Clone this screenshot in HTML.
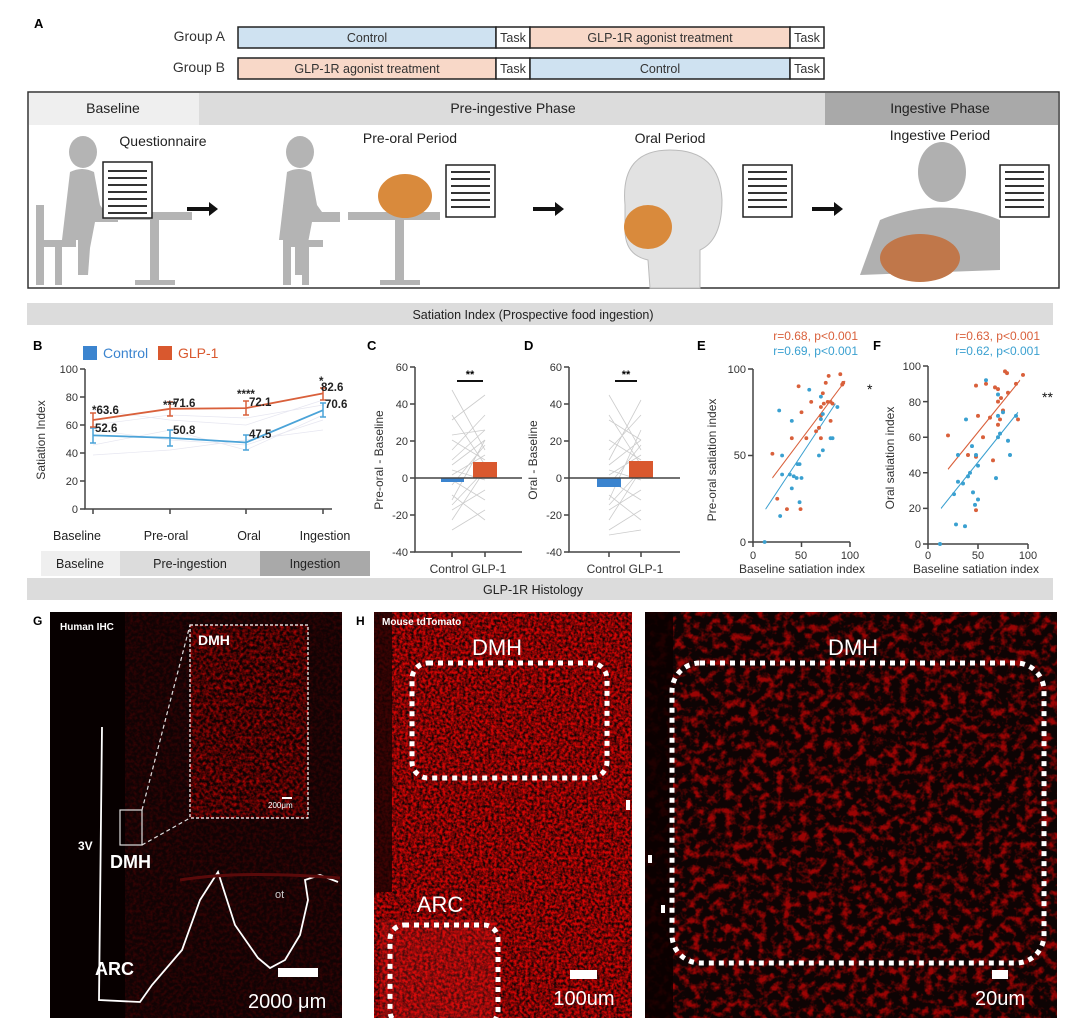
<!DOCTYPE html>
<html><head><meta charset="utf-8"><style>
html,body{margin:0;padding:0;background:#fff;}
svg{display:block;font-family:"Liberation Sans",Arial,sans-serif;}
</style></head><body>
<svg width="1080" height="1028" viewBox="0 0 1080 1028" xmlns="http://www.w3.org/2000/svg">
<defs>
<filter id="nz1" x="0" y="0" width="100%" height="100%" color-interpolation-filters="sRGB"><feTurbulence type="fractalNoise" baseFrequency="0.35" numOctaves="2" seed="3"/><feColorMatrix type="matrix" values="2.2 0 0 0 -0.55  0 0 0 0 0.02  0 0 0 0 0.02  0 0 0 0 1"/></filter>
<filter id="nz2" x="0" y="0" width="100%" height="100%" color-interpolation-filters="sRGB"><feTurbulence type="fractalNoise" baseFrequency="0.3" numOctaves="2" seed="7"/><feColorMatrix type="matrix" values="2.2 0 0 0 -0.75  0 0 0 0 0.01  0 0 0 0 0.01  0 0 0 0 1"/></filter>
<filter id="nz3" x="0" y="0" width="100%" height="100%" color-interpolation-filters="sRGB"><feTurbulence type="fractalNoise" baseFrequency="0.12" numOctaves="3" seed="11"/><feColorMatrix type="matrix" values="3.5 0 0 0 -1.6  0 0 0 0 0.02  0 0 0 0 0.02  0 0 0 0 1"/></filter>
<filter id="nz4" x="0" y="0" width="100%" height="100%" color-interpolation-filters="sRGB"><feTurbulence type="fractalNoise" baseFrequency="0.3" numOctaves="2" seed="5"/><feColorMatrix type="matrix" values="0.8 0 0 0 -0.3  0 0 0 0 0.01  0 0 0 0 0.01  0 0 0 0 1"/></filter>
</defs>

<!-- A -->
<text x="34" y="28" font-size="13" font-weight="bold">A</text>
<text x="225" y="41" font-size="14" text-anchor="end" fill="#333">Group A</text>
<text x="225" y="72" font-size="14" text-anchor="end" fill="#333">Group B</text>
<g stroke="#222" stroke-width="1.5" font-size="12.5" fill="#333">
<rect x="238" y="27" width="258" height="21" fill="#cfe2f1"/>
<rect x="496" y="27" width="34" height="21" fill="#fff"/>
<rect x="530" y="27" width="260" height="21" fill="#f8d8c8"/>
<rect x="790" y="27" width="34" height="21" fill="#fff"/>
<rect x="238" y="58" width="258" height="21" fill="#f8d8c8"/>
<rect x="496" y="58" width="34" height="21" fill="#fff"/>
<rect x="530" y="58" width="260" height="21" fill="#cfe2f1"/>
<rect x="790" y="58" width="34" height="21" fill="#fff"/>
</g>
<g font-size="12.5" fill="#333" text-anchor="middle">
<text x="367" y="42">Control</text><text x="513" y="42">Task</text><text x="660" y="42">GLP-1R agonist treatment</text><text x="807" y="42">Task</text>
<text x="367" y="73">GLP-1R agonist treatment</text><text x="513" y="73">Task</text><text x="660" y="73">Control</text><text x="807" y="73">Task</text>
</g>
<rect x="28" y="92" width="1031" height="196" fill="#fff" stroke="#333" stroke-width="1.5"/>
<rect x="29" y="93" width="170" height="32" fill="#efefef"/>
<rect x="199" y="93" width="626" height="32" fill="#dcdcdc"/>
<rect x="825" y="93" width="233" height="32" fill="#a9a9a9"/>
<g font-size="14" fill="#222" text-anchor="middle">
<text x="113" y="113">Baseline</text><text x="513" y="113">Pre-ingestive Phase</text><text x="940" y="113">Ingestive Phase</text>
<text x="163" y="146">Questionnaire</text><text x="410" y="143">Pre-oral Period</text><text x="670" y="143">Oral Period</text><text x="940" y="140">Ingestive Period</text>
</g>
<g fill="#b4b4b4">
<ellipse cx="83" cy="152" rx="14" ry="16"/>
<path d="M70 172 Q82 166 94 172 L100 205 L105 212 L118 212 L118 222 L95 222 L90 248 L88 275 L78 275 L78 240 L62 240 Z"/>
<rect x="36" y="205" width="8" height="80"/><rect x="36" y="240" width="40" height="7"/><rect x="55" y="247" width="7" height="38"/>
<rect x="100" y="212" width="92" height="8"/><rect x="150" y="220" width="9" height="62"/><rect x="135" y="280" width="40" height="5"/>
<path d="M287 172 Q299 166 311 172 L317 205 L322 212 L340 212 L340 222 L312 222 L307 248 L305 275 L295 275 L295 240 L279 240 Z"/>
<ellipse cx="300" cy="152" rx="14" ry="16"/>
<rect x="283" y="205" width="8" height="80"/><rect x="283" y="240" width="40" height="7"/><rect x="302" y="247" width="7" height="38"/>
<rect x="348" y="212" width="92" height="8"/><rect x="395" y="220" width="9" height="62"/><rect x="380" y="280" width="40" height="5"/>
</g>
<g fill="#fff" stroke="#222" stroke-width="1.5"><rect x="103" y="162" width="49" height="56"/><rect x="446" y="165" width="49" height="52"/><rect x="743" y="165" width="49" height="52"/><rect x="1000" y="165" width="49" height="52"/></g>
<g stroke="#333" stroke-width="2">
<path d="M108 171h39M108 178h39M108 185h39M108 192h39M108 199h39M108 206h39M108 213h39"/>
<path d="M451 172h39M451 179h39M451 186h39M451 193h39M451 200h39M451 207h39"/>
<path d="M748 172h39M748 179h39M748 186h39M748 193h39M748 200h39M748 207h39"/>
<path d="M1005 172h39M1005 179h39M1005 186h39M1005 193h39M1005 200h39M1005 207h39"/>
</g>
<g fill="#111"><path d="M187 207h22v-5l9 7-9 7v-5h-22z"/><path d="M533 207h22v-5l9 7-9 7v-5h-22z"/><path d="M812 207h22v-5l9 7-9 7v-5h-22z"/></g>
<ellipse cx="405" cy="196" rx="27" ry="22" fill="#d98a3c"/>
<path d="M625 205 Q620 150 670 150 Q720 150 722 200 Q722 240 700 250 L700 288 L650 288 L648 260 Q625 255 625 230 Z" fill="#e2e2e2" stroke="#bbb"/>
<ellipse cx="648" cy="227" rx="24" ry="22" fill="#d98a3c"/>
<g fill="#b0b0b0"><ellipse cx="942" cy="172" rx="24" ry="30"/><path d="M880 220 Q940 195 1000 220 L1000 270 L860 275 Z"/></g>
<ellipse cx="920" cy="258" rx="40" ry="24" fill="#c0774a"/>

<rect x="27" y="303" width="1026" height="22" fill="#dcdcdc"/>
<text x="533" y="319" font-size="12.5" text-anchor="middle" fill="#222">Satiation Index (Prospective food ingestion)</text>

<!-- B -->
<text x="33" y="350" font-size="13" font-weight="bold">B</text>
<rect x="83" y="346" width="14" height="14" fill="#3b84cf"/><text x="103" y="358" font-size="14" fill="#3b84cf">Control</text>
<rect x="158" y="346" width="14" height="14" fill="#d9582e"/><text x="178" y="358" font-size="14" fill="#d9582e">GLP-1</text>
<g stroke="#444" stroke-width="1.5" fill="none"><path d="M85 369V509H332"/><path d="M80 369h5M80 397h5M80 425h5M80 453h5M80 481h5M80 509h5M93 509v5M170 509v5M246 509v5M323 509v5"/></g>
<g font-size="11" fill="#333" text-anchor="end"><text x="78" y="373">100</text><text x="78" y="401">80</text><text x="78" y="429">60</text><text x="78" y="457">40</text><text x="78" y="485">20</text><text x="78" y="513">0</text></g>
<text transform="translate(45,440) rotate(-90)" font-size="12" text-anchor="middle" fill="#333">Satiation Index</text>
<g stroke="#e4e4ef" stroke-width="0.7" fill="none" opacity="0.9"><path d="M93 430L170 440L246 445L323 420"/><path d="M93 445L170 430L246 450L323 415"/><path d="M93 410L170 420L246 425L323 400"/><path d="M93 455L170 450L246 440L323 430"/><path d="M93 425L170 415L246 418L323 405"/></g>
<polyline points="93,435.4 170,437.9 246,442.5 323,410.2" fill="none" stroke="#4aa3d8" stroke-width="1.8"/>
<polyline points="93,420 170,408.8 246,408.1 323,393.4" fill="none" stroke="#d9603b" stroke-width="1.8"/>
<g stroke="#4aa3d8" stroke-width="1.5"><path d="M93 428v15M90 428h6M90 443h6M170 430v16M167 430h6M167 446h6M246 435v15M243 435h6M243 450h6M323 403v14M320 403h6M320 417h6"/></g>
<g stroke="#d9603b" stroke-width="1.5"><path d="M93 413v14M90 413h6M90 427h6M170 402v14M167 402h6M167 416h6M246 401v14M243 401h6M243 415h6M323 388v12M320 388h6M320 400h6"/></g>
<g font-size="11.5" font-weight="bold" fill="#222"><text x="92" y="414">*63.6</text><text x="95" y="432">52.6</text><text x="163" y="409">***</text><text x="173" y="407">71.6</text><text x="173" y="434">50.8</text><text x="237" y="398">****</text><text x="249" y="406">72.1</text><text x="249" y="438">47.5</text><text x="321" y="391">82.6</text><text x="319" y="385">*</text><text x="325" y="408">70.6</text></g>
<g font-size="12.5" fill="#222" text-anchor="middle"><text x="77" y="540">Baseline</text><text x="166" y="540">Pre-oral</text><text x="249" y="540">Oral</text><text x="325" y="540">Ingestion</text></g>
<rect x="41" y="551" width="79" height="25" fill="#efefef"/><rect x="120" y="551" width="140" height="25" fill="#dcdcdc"/><rect x="260" y="551" width="110" height="25" fill="#a9a9a9"/>
<g font-size="12.5" fill="#222" text-anchor="middle"><text x="80" y="568">Baseline</text><text x="190" y="568">Pre-ingestion</text><text x="315" y="568">Ingestion</text></g>

<!-- C -->
<text x="367" y="350" font-size="13" font-weight="bold">C</text>
<g stroke="#ccc" stroke-width="0.8"><path d="M452 460L485 430M452 420L485 395M452 505L485 470M452 470L485 480M452 500L485 440M452 440L485 460M452 530L485 510M452 390L485 450M452 485L485 445M452 450L485 415M452 510L485 490M452 475L485 455M452 495L485 520M452 415L485 465M452 520L485 470M452 465L485 440M452 435L485 430M452 480L485 500"/></g>
<rect x="441" y="478" width="23" height="4" fill="#3b84cf"/><rect x="473" y="462" width="24" height="16" fill="#d9582e"/>
<g stroke="#444" stroke-width="1.5" fill="none"><path d="M415 367V552H522M415 478H522"/><path d="M410 367h5M410 404h5M410 441h5M410 478h5M410 515h5M410 552h5M452 552v5M485 552v5"/></g>
<path d="M457 381H483" stroke="#111" stroke-width="2"/><text x="470" y="378" font-size="11" text-anchor="middle" font-weight="bold">**</text>
<g font-size="11" fill="#333" text-anchor="end"><text x="408" y="371">60</text><text x="408" y="408">40</text><text x="408" y="445">20</text><text x="408" y="482">0</text><text x="408" y="519">-20</text><text x="408" y="556">-40</text></g>
<text transform="translate(383,460) rotate(-90)" font-size="12" text-anchor="middle" fill="#333">Pre-oral - Baseline</text>
<text x="468" y="573" font-size="12" text-anchor="middle" fill="#333">Control  GLP-1</text>

<!-- D -->
<text x="524" y="350" font-size="13" font-weight="bold">D</text>
<g stroke="#ccc" stroke-width="0.8"><path d="M609 460L641 400M609 420L641 440M609 505L641 470M609 470L641 480M609 500L641 430M609 440L641 460M609 530L641 510M609 395L641 450M609 485L641 445M609 450L641 415M609 510L641 490M609 475L641 455M609 495L641 520M609 415L641 465M609 520L641 470M609 465L641 440M609 535L641 530M609 480L641 500"/></g>
<rect x="597" y="478" width="24" height="9" fill="#3b84cf"/><rect x="629" y="461" width="24" height="17" fill="#d9582e"/>
<g stroke="#444" stroke-width="1.5" fill="none"><path d="M569 367V552H680M569 478H680"/><path d="M564 367h5M564 404h5M564 441h5M564 478h5M564 515h5M564 552h5M609 552v5M641 552v5"/></g>
<path d="M615 381H637" stroke="#111" stroke-width="2"/><text x="626" y="378" font-size="11" text-anchor="middle" font-weight="bold">**</text>
<g font-size="11" fill="#333" text-anchor="end"><text x="562" y="371">60</text><text x="562" y="408">40</text><text x="562" y="445">20</text><text x="562" y="482">0</text><text x="562" y="519">-20</text><text x="562" y="556">-40</text></g>
<text transform="translate(537,460) rotate(-90)" font-size="12" text-anchor="middle" fill="#333">Oral - Baseline</text>
<text x="625" y="573" font-size="12" text-anchor="middle" fill="#333">Control  GLP-1</text>

<!-- E -->
<text x="697" y="350" font-size="13" font-weight="bold">E</text>
<text x="858" y="340" font-size="12" text-anchor="end" fill="#d9603b">r=0.68, p&lt;0.001</text>
<text x="858" y="355" font-size="12" text-anchor="end" fill="#3aa0d0">r=0.69, p&lt;0.001</text>
<text x="867" y="394" font-size="14" fill="#111">*</text>
<g stroke="#444" stroke-width="1.5" fill="none"><path d="M753 369V542H850"/><path d="M748 369h5M748 455.5h5M748 542h5M753 542v5M801.5 542v5M850 542v5"/></g>
<g font-size="11" fill="#333"><text x="746" y="373" text-anchor="end">100</text><text x="746" y="459" text-anchor="end">50</text><text x="746" y="546" text-anchor="end">0</text><text x="753" y="559" text-anchor="middle">0</text><text x="801" y="559" text-anchor="middle">50</text><text x="850" y="559" text-anchor="middle">100</text></g>
<text x="802" y="573" font-size="12" text-anchor="middle" fill="#333">Baseline satiation index</text>
<text transform="translate(716,460) rotate(-90)" font-size="12" text-anchor="middle" fill="#333">Pre-oral satiation index</text>
<g transform="translate(753,542) scale(0.97,-1.73)">
<path d="M20 37L95 93" stroke="#d9603b" stroke-width="0.8" fill="none"/>
<path d="M13 19L85 80" stroke="#3aa0d0" stroke-width="0.8" fill="none"/>
<g fill="#d9603b"><ellipse cx="20" cy="51" rx="2" ry="1.1"/><ellipse cx="25" cy="25" rx="2" ry="1.1"/><ellipse cx="35" cy="19" rx="2" ry="1.1"/><ellipse cx="40" cy="60" rx="2" ry="1.1"/><ellipse cx="47" cy="90" rx="2" ry="1.1"/><ellipse cx="49" cy="19" rx="2" ry="1.1"/><ellipse cx="50" cy="75" rx="2" ry="1.1"/><ellipse cx="55" cy="60" rx="2" ry="1.1"/><ellipse cx="60" cy="81" rx="2" ry="1.1"/><ellipse cx="65" cy="64" rx="2" ry="1.1"/><ellipse cx="68" cy="66" rx="2" ry="1.1"/><ellipse cx="70" cy="78" rx="2" ry="1.1"/><ellipse cx="70" cy="60" rx="2" ry="1.1"/><ellipse cx="72" cy="86" rx="2" ry="1.1"/><ellipse cx="73" cy="80" rx="2" ry="1.1"/><ellipse cx="75" cy="92" rx="2" ry="1.1"/><ellipse cx="77" cy="81" rx="2" ry="1.1"/><ellipse cx="78" cy="96" rx="2" ry="1.1"/><ellipse cx="80" cy="81" rx="2" ry="1.1"/><ellipse cx="80" cy="70" rx="2" ry="1.1"/><ellipse cx="82" cy="80" rx="2" ry="1.1"/><ellipse cx="90" cy="97" rx="2" ry="1.1"/><ellipse cx="92" cy="91" rx="2" ry="1.1"/><ellipse cx="93" cy="92" rx="2" ry="1.1"/><ellipse cx="70" cy="73" rx="2" ry="1.1"/></g>
<g fill="#3aa0d0"><ellipse cx="12" cy="0" rx="2" ry="1.1"/><ellipse cx="27" cy="76" rx="2" ry="1.1"/><ellipse cx="28" cy="15" rx="2" ry="1.1"/><ellipse cx="30" cy="50" rx="2" ry="1.1"/><ellipse cx="30" cy="39" rx="2" ry="1.1"/><ellipse cx="38" cy="39" rx="2" ry="1.1"/><ellipse cx="40" cy="70" rx="2" ry="1.1"/><ellipse cx="40" cy="31" rx="2" ry="1.1"/><ellipse cx="42" cy="38" rx="2" ry="1.1"/><ellipse cx="45" cy="37" rx="2" ry="1.1"/><ellipse cx="46" cy="45" rx="2" ry="1.1"/><ellipse cx="48" cy="45" rx="2" ry="1.1"/><ellipse cx="48" cy="23" rx="2" ry="1.1"/><ellipse cx="50" cy="37" rx="2" ry="1.1"/><ellipse cx="58" cy="88" rx="2" ry="1.1"/><ellipse cx="68" cy="50" rx="2" ry="1.1"/><ellipse cx="70" cy="71" rx="2" ry="1.1"/><ellipse cx="70" cy="84" rx="2" ry="1.1"/><ellipse cx="72" cy="53" rx="2" ry="1.1"/><ellipse cx="72" cy="74" rx="2" ry="1.1"/><ellipse cx="80" cy="60" rx="2" ry="1.1"/><ellipse cx="82" cy="60" rx="2" ry="1.1"/><ellipse cx="87" cy="78" rx="2" ry="1.1"/></g>
</g>

<!-- F -->
<text x="873" y="350" font-size="13" font-weight="bold">F</text>
<text x="1040" y="340" font-size="12" text-anchor="end" fill="#d9603b">r=0.63, p&lt;0.001</text>
<text x="1040" y="355" font-size="12" text-anchor="end" fill="#3aa0d0">r=0.62, p&lt;0.001</text>
<text x="1042" y="402" font-size="14" fill="#111">**</text>
<g stroke="#444" stroke-width="1.5" fill="none"><path d="M928 366V544H1028"/><path d="M923 366h5M923 401.6h5M923 437.2h5M923 472.8h5M923 508.4h5M923 544h5M928 544v5M978 544v5M1028 544v5"/></g>
<g font-size="11" fill="#333"><text x="921" y="370" text-anchor="end">100</text><text x="921" y="406" text-anchor="end">80</text><text x="921" y="441" text-anchor="end">60</text><text x="921" y="477" text-anchor="end">40</text><text x="921" y="512" text-anchor="end">20</text><text x="921" y="548" text-anchor="end">0</text><text x="928" y="559" text-anchor="middle">0</text><text x="978" y="559" text-anchor="middle">50</text><text x="1028" y="559" text-anchor="middle">100</text></g>
<text x="976" y="573" font-size="12" text-anchor="middle" fill="#333">Baseline satiation index</text>
<text transform="translate(894,458) rotate(-90)" font-size="12" text-anchor="middle" fill="#333">Oral satiation index</text>
<g transform="translate(928,544) scale(1,-1.78)">
<path d="M20 42L92 92" stroke="#d9603b" stroke-width="0.8" fill="none"/>
<path d="M13 20L90 74" stroke="#3aa0d0" stroke-width="0.8" fill="none"/>
<g fill="#d9603b"><ellipse cx="20" cy="61" rx="2" ry="1.1"/><ellipse cx="48" cy="49" rx="2" ry="1.1"/><ellipse cx="48" cy="89" rx="2" ry="1.1"/><ellipse cx="48" cy="19" rx="2" ry="1.1"/><ellipse cx="50" cy="72" rx="2" ry="1.1"/><ellipse cx="55" cy="60" rx="2" ry="1.1"/><ellipse cx="58" cy="90" rx="2" ry="1.1"/><ellipse cx="62" cy="71" rx="2" ry="1.1"/><ellipse cx="65" cy="47" rx="2" ry="1.1"/><ellipse cx="67" cy="88" rx="2" ry="1.1"/><ellipse cx="70" cy="80" rx="2" ry="1.1"/><ellipse cx="70" cy="67" rx="2" ry="1.1"/><ellipse cx="72" cy="70" rx="2" ry="1.1"/><ellipse cx="73" cy="82" rx="2" ry="1.1"/><ellipse cx="75" cy="75" rx="2" ry="1.1"/><ellipse cx="77" cy="97" rx="2" ry="1.1"/><ellipse cx="79" cy="96" rx="2" ry="1.1"/><ellipse cx="80" cy="85" rx="2" ry="1.1"/><ellipse cx="88" cy="90" rx="2" ry="1.1"/><ellipse cx="90" cy="70" rx="2" ry="1.1"/><ellipse cx="95" cy="95" rx="2" ry="1.1"/><ellipse cx="70" cy="87" rx="2" ry="1.1"/><ellipse cx="40" cy="50" rx="2" ry="1.1"/></g>
<g fill="#3aa0d0"><ellipse cx="12" cy="0" rx="2" ry="1.1"/><ellipse cx="26" cy="28" rx="2" ry="1.1"/><ellipse cx="28" cy="11" rx="2" ry="1.1"/><ellipse cx="30" cy="35" rx="2" ry="1.1"/><ellipse cx="30" cy="50" rx="2" ry="1.1"/><ellipse cx="35" cy="34" rx="2" ry="1.1"/><ellipse cx="37" cy="10" rx="2" ry="1.1"/><ellipse cx="38" cy="70" rx="2" ry="1.1"/><ellipse cx="40" cy="38" rx="2" ry="1.1"/><ellipse cx="42" cy="40" rx="2" ry="1.1"/><ellipse cx="44" cy="55" rx="2" ry="1.1"/><ellipse cx="45" cy="29" rx="2" ry="1.1"/><ellipse cx="47" cy="22" rx="2" ry="1.1"/><ellipse cx="48" cy="50" rx="2" ry="1.1"/><ellipse cx="50" cy="25" rx="2" ry="1.1"/><ellipse cx="50" cy="44" rx="2" ry="1.1"/><ellipse cx="58" cy="92" rx="2" ry="1.1"/><ellipse cx="68" cy="37" rx="2" ry="1.1"/><ellipse cx="70" cy="60" rx="2" ry="1.1"/><ellipse cx="70" cy="84" rx="2" ry="1.1"/><ellipse cx="70" cy="72" rx="2" ry="1.1"/><ellipse cx="72" cy="62" rx="2" ry="1.1"/><ellipse cx="75" cy="74" rx="2" ry="1.1"/><ellipse cx="80" cy="58" rx="2" ry="1.1"/><ellipse cx="82" cy="50" rx="2" ry="1.1"/><ellipse cx="88" cy="72" rx="2" ry="1.1"/></g>
</g>

<rect x="27" y="578" width="1026" height="22" fill="#dcdcdc"/>
<text x="533" y="594" font-size="12.5" text-anchor="middle" fill="#222">GLP-1R Histology</text>

<!-- G -->
<text x="33" y="625" font-size="12" font-weight="bold">G</text>
<rect x="50" y="612" width="292" height="406" fill="#1e0405"/>
<rect x="50" y="612" width="292" height="406" filter="url(#nz4)" opacity="0.4"/>
<rect x="50" y="612" width="75" height="406" fill="#070000"/>
<rect x="190" y="625" width="118" height="193" fill="#2a0505"/>
<rect x="190" y="625" width="118" height="193" filter="url(#nz2)" opacity="0.6"/>
<rect x="190" y="625" width="118" height="193" fill="none" stroke="#fff" stroke-dasharray="3,2" stroke-width="1.2"/>
<rect x="120" y="810" width="22" height="35" fill="none" stroke="#ddd" stroke-width="1.2"/>
<path d="M142 810L190 625M142 845L190 818" stroke="#ddd" stroke-dasharray="4,3" stroke-width="1.2"/>
<path d="M102 727L99 1000L140 1002L152 985L182 950L200 900L218 872L235 925L258 958L270 968L285 960L300 935L308 900L305 880L320 875L338 882" fill="none" stroke="#fff" stroke-width="1.8"/>
<path d="M180 880Q240 870 340 878" stroke="#5a0a0a" stroke-width="3" fill="none"/>
<g fill="#fff"><text x="60" y="630" font-size="10" font-weight="bold">Human IHC</text><text x="198" y="645" font-size="14" font-weight="bold">DMH</text><text x="78" y="850" font-size="12" font-weight="bold">3V</text><text x="110" y="868" font-size="18" font-weight="bold">DMH</text><text x="95" y="975" font-size="18" font-weight="bold">ARC</text><text x="275" y="898" font-size="11" fill="#ccc">ot</text><text x="248" y="1008" font-size="20">2000 μm</text><text x="268" y="808" font-size="8">200μm</text></g>
<rect x="278" y="968" width="40" height="9" fill="#fff"/><rect x="282" y="797" width="10" height="2" fill="#fff"/>

<!-- H -->
<text x="356" y="625" font-size="12" font-weight="bold">H</text>
<rect x="374" y="612" width="258" height="406" fill="#500808"/>
<rect x="374" y="612" width="258" height="406" filter="url(#nz1)" opacity="0.75"/>
<rect x="374" y="612" width="18" height="280" fill="#1a0202" opacity="0.8"/>
<rect x="380" y="920" width="115" height="98" fill="#e02020" opacity="0.25"/>
<rect x="412" y="663" width="195" height="115" rx="16" fill="none" stroke="#fff" stroke-width="5" stroke-dasharray="5,5"/>
<rect x="390" y="925" width="108" height="100" rx="14" fill="none" stroke="#fff" stroke-width="5" stroke-dasharray="5,5"/>
<g fill="#fff"><text x="382" y="625" font-size="10" font-weight="bold">Mouse tdTomato</text><text x="497" y="655" font-size="22" text-anchor="middle">DMH</text><text x="440" y="912" font-size="22" text-anchor="middle">ARC</text><text x="584" y="1005" font-size="20" text-anchor="middle">100um</text></g>
<rect x="570" y="970" width="27" height="9" fill="#fff"/>

<rect x="645" y="612" width="412" height="406" fill="#200303"/>
<rect x="645" y="612" width="412" height="406" filter="url(#nz3)" opacity="0.55"/>
<rect x="645" y="612" width="28" height="406" fill="#0a0000" opacity="0.85"/>
<rect x="672" y="663" width="372" height="300" rx="28" fill="none" stroke="#fff" stroke-width="5" stroke-dasharray="5,5"/>
<g fill="#fff"><text x="853" y="655" font-size="22" text-anchor="middle">DMH</text><text x="1000" y="1005" font-size="20" text-anchor="middle">20um</text></g>
<rect x="992" y="970" width="16" height="9" fill="#fff"/>
<path d="M628 800v10M650 855v8M663 905v8" stroke="#fff" stroke-width="4"/>
</svg>
</body></html>
